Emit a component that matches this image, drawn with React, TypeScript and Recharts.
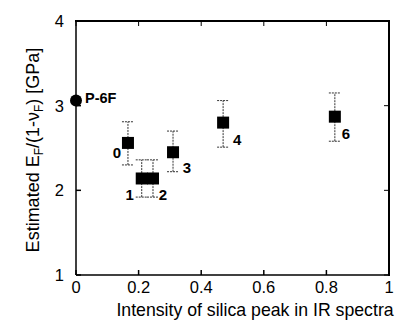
import { ScatterChart, Scatter, XAxis, YAxis, ErrorBar } from 'recharts'

// samples with increasing silica content
const samples = ['0', '1', '2', '3', '4', '6']
const silica = [0.166, 0.21, 0.246, 0.31, 0.47, 0.827]
const modulus = [2.56, 2.14, 2.14, 2.45, 2.8, 2.87]
const errLow = [0.26, 0.22, 0.22, 0.23, 0.29, 0.29]
const errHigh = [0.25, 0.22, 0.22, 0.25, 0.26, 0.28]

// reference film
const refNames = ['P-6F']
const refSilica = [0]
const refModulus = [3.06]

const xTicks = [0, 0.2, 0.4, 0.6, 0.8, 1]
const yTicks = [1, 2, 3, 4]
const xDomain = [0, 1]
const yDomain = [1, 4]

const font = 'Liberation Sans, Arial, Helvetica, sans-serif'

const W = 395
const H = 322
const margin = { top: 21, right: 6, bottom: 7, left: 16 }
const yAxisWidth = 60
const xAxisHeight = 40
// plot box, used only for the top/right frame overlay
const plotLeft = margin.left + yAxisWidth
const plotTop = margin.top
const plotRight = W - margin.right
const plotBottom = H - margin.bottom - xAxisHeight

const sampleData = samples.map((name, i) => ({
  name,
  x: silica[i],
  y: modulus[i],
  err: [errLow[i], errHigh[i]],
}))

const refData = refNames.map((name, i) => ({
  name,
  x: refSilica[i],
  y: refModulus[i],
}))

// where each sample number sits relative to its marker
const labelOffset: Record<string, [number, number]> = {
  '0': [-11, 10],
  '1': [-12, 16],
  '2': [10, 16],
  '3': [14, 15],
  '4': [14, 17],
  '6': [11, 17],
}

function SquareMark(props: any) {
  const { cx, cy, payload } = props
  const [dx, dy] = labelOffset[payload.name] || [12, 12]
  return (
    <g>
      <rect x={cx - 6} y={cy - 6} width={12} height={12} fill="#000" />
      <text
        x={cx + dx}
        y={cy + dy}
        textAnchor="middle"
        dominantBaseline="central"
        fontFamily={font}
        fontWeight="bold"
        fontSize={15}
        fill="#000"
      >
        {payload.name}
      </text>
    </g>
  )
}

function CircleMark(props: any) {
  const { cx, cy, payload } = props
  return (
    <g>
      <circle cx={cx} cy={cy} r={6} fill="#000" />
      <text
        x={cx + 9}
        y={cy - 3}
        textAnchor="start"
        dominantBaseline="central"
        fontFamily={font}
        fontWeight="bold"
        fontSize={14.5}
        fill="#000"
      >
        {payload.name}
      </text>
    </g>
  )
}

const tickStyle = { fontFamily: font, fontSize: 16.5, fill: '#000' }

const sx = (v: number) =>
  plotLeft + ((v - xDomain[0]) / (xDomain[1] - xDomain[0])) * (plotRight - plotLeft)
const sy = (v: number) =>
  plotBottom - ((v - yDomain[0]) / (yDomain[1] - yDomain[0])) * (plotBottom - plotTop)

// top and right border with inward ticks, drawn as filled rects on top of the chart
function Frame() {
  return (
    <svg
      width={W}
      height={H}
      style={{ position: 'absolute', left: 0, top: 0, pointerEvents: 'none' }}
    >
      <rect x={plotLeft - 1} y={plotTop - 1} width={plotRight - plotLeft + 2} height={2} fill="#000" />
      <rect x={plotRight - 1} y={plotTop - 1} width={2} height={plotBottom - plotTop + 2} fill="#000" />
      {xTicks.map((t) => (
        <rect key={'tx' + t} x={sx(t) - 0.5} y={plotTop} width={1} height={5} fill="#000" />
      ))}
      {yTicks.map((t) => (
        <rect key={'ty' + t} x={plotRight - 5} y={sy(t) - 0.5} width={5} height={1} fill="#000" />
      ))}
    </svg>
  )
}

export default function App() {
  return (
    <div style={{ position: 'absolute', left: 0, top: 0, width: W, height: H, background: '#fff' }}>
      <ScatterChart width={W} height={H} margin={margin}>
        <XAxis
          type="number"
          dataKey="x"
          domain={xDomain}
          ticks={xTicks}
          height={xAxisHeight}
          stroke="#000"
          strokeWidth={1.5}
          tick={tickStyle}
          tickSize={-5}
          tickMargin={11}
        />
        <YAxis
          type="number"
          dataKey="y"
          domain={yDomain}
          ticks={yTicks}
          width={yAxisWidth}
          stroke="#000"
          strokeWidth={1.5}
          tick={tickStyle}
          tickSize={-5}
          tickMargin={17}
        />
        <Scatter data={sampleData} shape={<SquareMark />} isAnimationActive={false}>
          <ErrorBar
            dataKey="err"
            direction="y"
            width={6}
            stroke="#333"
            strokeWidth={1}
            strokeDasharray="2 1"
            isAnimationActive={false}
          />
        </Scatter>
        <Scatter data={refData} shape={<CircleMark />} isAnimationActive={false} />
        <text
          transform="translate(39,150) rotate(-90)"
          textAnchor="middle"
          fontFamily={font}
          fontSize={18}
          fill="#000"
        >
          Estimated E
          <tspan fontSize={12} dy={4}>F</tspan>
          <tspan dy={-4}>/(1-ν</tspan>
          <tspan fontSize={12} dy={4}>F</tspan>
          <tspan dy={-4}>) [GPa]</tspan>
        </text>
        <text
          x={255}
          y={316}
          textAnchor="middle"
          fontFamily={font}
          fontSize={17.7}
          fill="#000"
        >
          Intensity of silica peak in IR spectra
        </text>
      </ScatterChart>
      <Frame />
    </div>
  )
}
